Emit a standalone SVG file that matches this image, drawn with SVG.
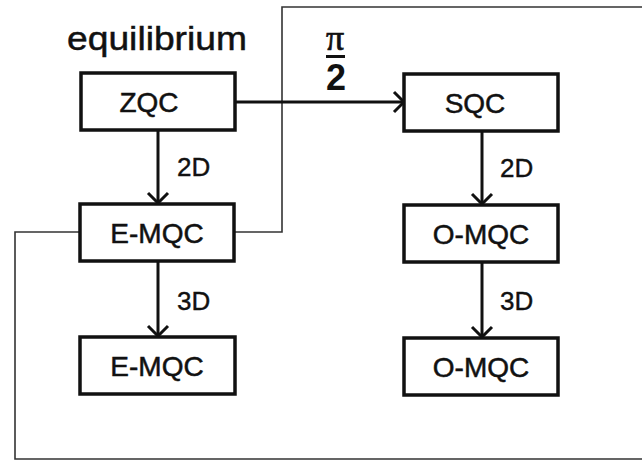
<svg xmlns="http://www.w3.org/2000/svg" width="642" height="462" viewBox="0 0 642 462">
<defs>
<style>
.box{fill:#fff;stroke:#111;stroke-width:3.5}
.t{font-family:"Liberation Sans",Arial,sans-serif;font-size:28px;fill:#111;stroke:#111;stroke-width:0.5;text-anchor:middle}
.lbl{font-family:"Liberation Sans",Arial,sans-serif;font-size:26px;fill:#111;stroke:#111;stroke-width:0.4}
.arr{fill:none;stroke:#111;stroke-width:3}
.thin{fill:none;stroke:#333;stroke-width:1.6}
</style>
<marker id="ah" markerWidth="14" markerHeight="24" refX="12" refY="12" orient="auto" markerUnits="userSpaceOnUse">
<path d="M2,2 L12,12 L2,22" fill="none" stroke="#111" stroke-width="3"/>
</marker>
</defs>
<rect width="642" height="462" fill="#fff"/>
<text x="67" y="50" font-family="Liberation Sans, Arial, sans-serif" font-size="34" fill="#111" stroke="#111" stroke-width="0.5" textLength="180" lengthAdjust="spacingAndGlyphs">equilibrium</text>
<g id="connectors">
<path class="thin" d="M234,232 H282 V7 H642"/>
<path class="thin" d="M79,232 H15 V459 H642"/>
<path class="arr" d="M235,102 H404" marker-end="url(#ah)"/>
<path class="arr" d="M158,130 V203" marker-end="url(#ah)"/>
<path class="arr" d="M158,261 V336" marker-end="url(#ah)"/>
<path class="arr" d="M482,131 V204" marker-end="url(#ah)"/>
<path class="arr" d="M482,262 V337" marker-end="url(#ah)"/>
<text x="335" y="50" font-family="Liberation Serif, Times New Roman, serif" font-size="36" fill="#111" stroke="#111" stroke-width="0.7" text-anchor="middle">π</text>
<rect x="326" y="55" width="19" height="3" fill="#111"/>
<text x="336" y="90" font-family="Liberation Sans, Arial, sans-serif" font-size="36" font-weight="bold" fill="#111" text-anchor="middle">2</text>
<text class="lbl" x="177" y="176">2D</text>
<text class="lbl" x="500" y="177">2D</text>
<text class="lbl" x="177" y="310">3D</text>
<text class="lbl" x="500" y="310">3D</text>
</g>
<g id="zqc"><rect class="box" x="81" y="73" width="154" height="57"/><text class="t" x="149" y="112">ZQC</text></g>
<g id="sqc"><rect class="box" x="404" y="74" width="154" height="57"/><text class="t" x="475" y="113">SQC</text></g>
<g id="emqc1"><rect class="box" x="80" y="204" width="154" height="57"/><text class="t" x="157" y="243">E-MQC</text></g>
<g id="omqc1"><rect class="box" x="404" y="205" width="154" height="57"/><text class="t" x="481" y="244">O-MQC</text></g>
<g id="emqc2"><rect class="box" x="80" y="337" width="155" height="57"/><text class="t" x="157" y="376">E-MQC</text></g>
<g id="omqc2"><rect class="box" x="404" y="338" width="154" height="57"/><text class="t" x="481" y="377">O-MQC</text></g>
</svg>
